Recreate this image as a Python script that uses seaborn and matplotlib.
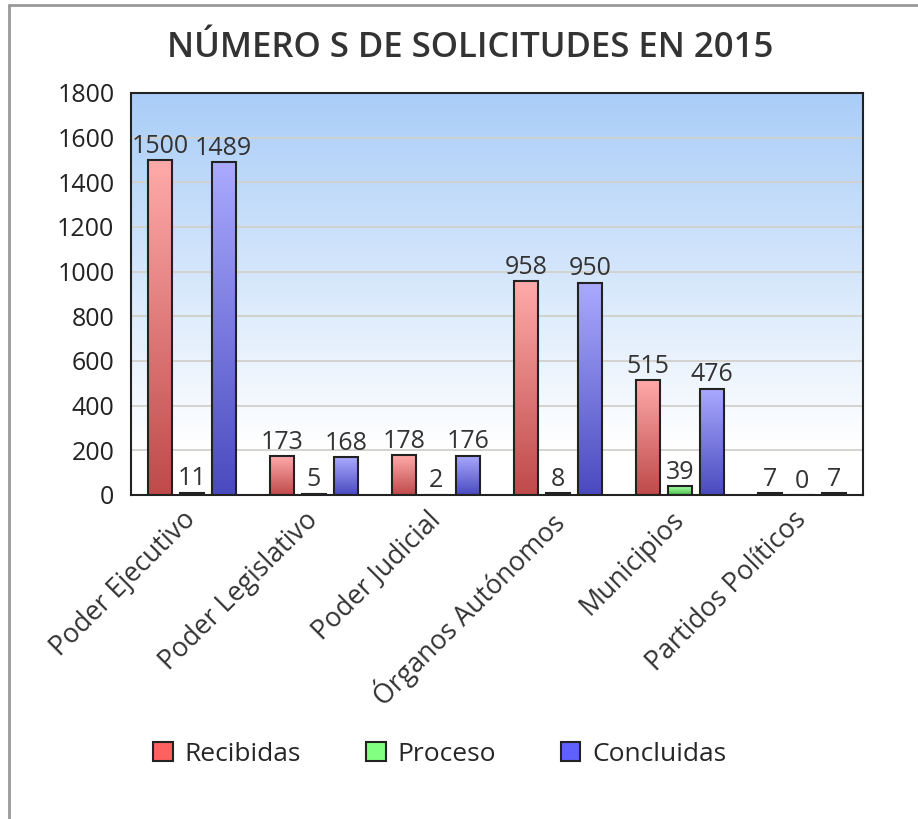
import numpy as np
import pandas as pd
import seaborn as sns
import matplotlib.pyplot as plt
import matplotlib.transforms as mtransforms
from matplotlib.colors import LinearSegmentedColormap
from matplotlib.patches import Patch
from matplotlib.lines import Line2D

categories = ['Poder Ejecutivo', 'Poder Legislativo', 'Poder Judicial',
              'Órganos Autónomos', 'Municipios', 'Partidos Políticos']
recibidas = [1500, 173, 178, 958, 515, 7]
proceso = [11, 5, 2, 8, 39, 0]
concluidas = [1489, 168, 176, 950, 476, 7]
series = ['Recibidas', 'Proceso', 'Concluidas']

df = pd.DataFrame({
    'categoria': categories * 3,
    'serie': np.repeat(series, len(categories)),
    'valor': recibidas + proceso + concluidas,
})

# gradient bottom / top colours per series, legend colour
grad = {
    'Recibidas': ('#bf4a4a', '#ffaaaa'),
    'Proceso': ('#4abf4a', '#aaffaa'),
    'Concluidas': ('#4a4abf', '#aaaaff'),
}
legend_colors = {'Recibidas': '#ff6060', 'Proceso': '#80ff80', 'Concluidas': '#6060ff'}

sns.set_style('white')
plt.rcParams['font.family'] = ['Open Sans', 'DejaVu Sans']

fig = plt.figure(figsize=(9.18, 8.19), dpi=100)
ax = fig.add_axes([131 / 918, 1 - 495 / 819, 732 / 918, 402 / 819])

sns.barplot(data=df, x='categoria', y='valor', hue='serie', hue_order=series,
            palette=legend_colors, width=0.78, gap=0.25, edgecolor='#222222',
            linewidth=1.5, legend=False, ax=ax, zorder=3)

# plot background gradient: light blue at top fading to white near the bottom
bg = LinearSegmentedColormap.from_list('bg', [(0, '#ffffff'), (0.12, '#ffffff'), (1, '#a9cdf8')])
ax.imshow(np.linspace(0, 1, 256).reshape(-1, 1)[::-1], cmap=bg,
          aspect='auto', extent=(0, 1, 0, 1), transform=ax.transAxes, zorder=0)
ax.set_facecolor('none')

# per-bar vertical gradients
for container, s in zip(ax.containers, series):
    cmap = LinearSegmentedColormap.from_list(s, list(grad[s]))
    for p in container.patches:
        x0, w, h = p.get_x(), p.get_width(), p.get_height()
        if h <= 0:
            continue
        ax.imshow(np.linspace(0, 1, 128).reshape(-1, 1)[::-1], cmap=cmap,
                  aspect='auto', extent=(x0, x0 + w, 0, h), zorder=3.5)
        p.set_facecolor('none')
        p.set_zorder(4)
    ax.bar_label(container, fmt='%d', padding=1, fontsize=18, color='#333333')

ax.set_xlim(-0.5, len(categories) - 0.5)
ax.set_ylim(0, 1800)
ax.set_yticks(range(0, 1801, 200))
ax.yaxis.grid(True, color='#d2d0cc', linewidth=1.3, zorder=1)
ax.set_axisbelow(True)
for sp in ax.spines.values():
    sp.set_color('#222222')
    sp.set_linewidth(1.5)
    sp.set_zorder(6)

ax.set_xlabel('')
ax.set_ylabel('')
ax.tick_params(axis='y', labelsize=18, labelcolor='#222222', length=0, pad=12)
ax.tick_params(axis='x', labelsize=19.3, labelcolor='#333333', length=0, pad=8)
shift = mtransforms.ScaledTranslation(-0.1, 0, fig.dpi_scale_trans)
for lab in ax.get_xticklabels():
    lab.set_rotation(45)
    lab.set_ha('right')
    lab.set_rotation_mode('anchor')
    lab.set_transform(lab.get_transform() + shift)

fig.suptitle('NÚMERO S DE SOLICITUDES EN 2015', x=0.512, y=0.962,
             fontsize=25, fontweight='semibold', color='#333333')

handles = [Patch(facecolor=legend_colors[s], edgecolor='#222222', linewidth=1.5, label=s)
           for s in series]
fig.legend(handles=handles, loc='center', bbox_to_anchor=(0.479, 0.079), ncol=3,
           frameon=False, fontsize=19, handlelength=0.75, handleheight=0.75,
           handletextpad=0.45, columnspacing=2.45)

# outer frame lines (top and left)
fig.add_artist(Line2D([9 / 918, 9 / 918], [0, 1 - 5 / 819], color='#999999', lw=2))
fig.add_artist(Line2D([9 / 918, 1], [1 - 5 / 819, 1 - 5 / 819], color='#999999', lw=2))

fig.savefig('out.png', dpi=100)
